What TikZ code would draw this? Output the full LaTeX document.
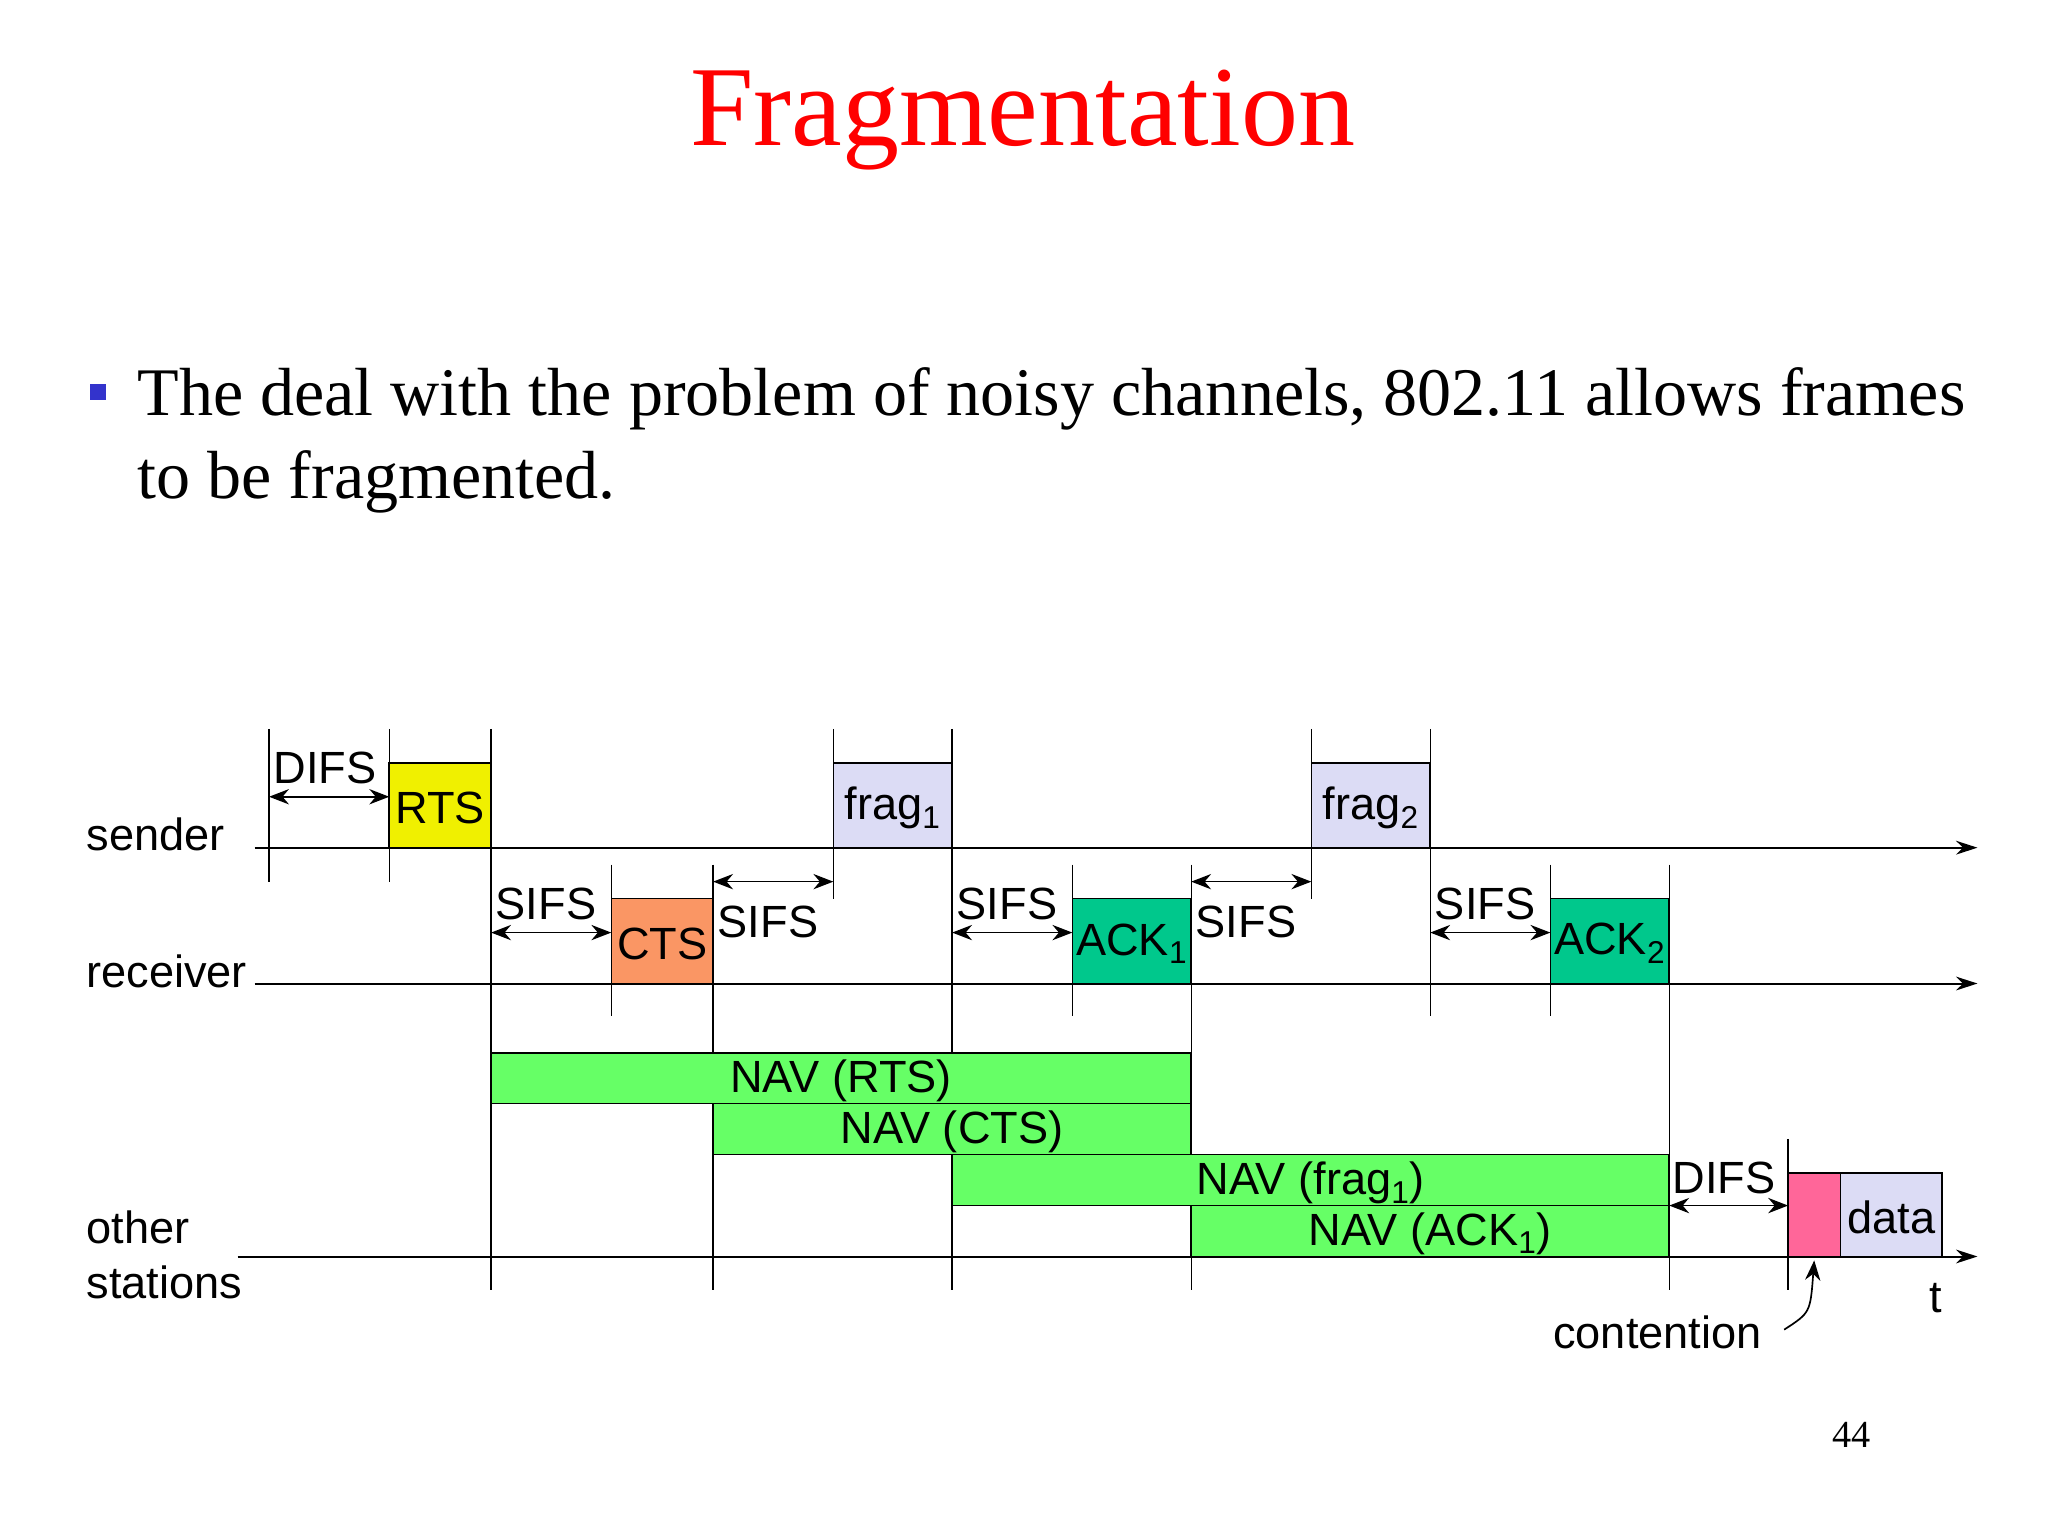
\documentclass[tikz,border=0pt]{standalone}
\usepackage{fontspec}
\setmainfont{Liberation Serif}
\setsansfont{Liberation Sans}
\usetikzlibrary{arrows.meta}
\definecolor{ttl}{RGB}{255,0,0}
\definecolor{bul}{RGB}{51,51,204}
\definecolor{rtsc}{RGB}{240,240,0}
\definecolor{ctsc}{RGB}{250,150,100}
\definecolor{ackc}{RGB}{0,200,140}
\definecolor{navc}{RGB}{102,255,102}
\definecolor{fragc}{RGB}{220,220,245}
\definecolor{pinkc}{RGB}{255,102,153}
\tikzset{
 lab/.style={font=\sffamily\fontsize{29.5}{32}\selectfont, inner sep=0pt},
 frame/.style={draw, line width=1pt},
 tl/.style={line width=1.3pt, -{Stealth[length=14pt,width=9pt]}},
 vl/.style={line width=0.9pt},
 gap/.style={line width=1.1pt, {Stealth[length=13pt,width=10pt]}-{Stealth[length=13pt,width=10pt]}}
}
\newcommand\fbx[6]{\draw[frame, fill=#5] (#1,#2) rectangle (#3,#4);
 \node[lab] (#6) at ({(#1+#3)/2},{(#2+#4)/2+2})}
\begin{document}
\begin{tikzpicture}[x=0.3mm,y=-0.3mm]
\useasboundingbox (0,0) rectangle (1568,1176);
\node[text=ttl, font=\fontsize{74.5}{80}\selectfont, inner sep=0pt] (title) at (783,92) {Fragmentation};
\fill[bul] (69,294) rectangle (81,306);
\node[anchor=base west, font=\fontsize{44.5}{54}\selectfont, inner sep=0pt] (b1) at (105,318) {The deal with the problem of noisy channels, 802.11 allows frames};
\node[anchor=base west, font=\fontsize{44.5}{54}\selectfont, inner sep=0pt] (b2) at (105,382) {to be fragmented.};
\node[anchor=base west, font=\fontsize{25}{30}\selectfont, inner sep=0pt] (pg) at (1403,1108) {44};
% verticals
\foreach \x/\a/\b in {206/558/675,298/558/675,376/558/988,468/662/778,546/662/988,638/558/688,729/558/988,821/662/778,912/662/988,1004/558/688,1095/558/778,1187/662/778,1278/662/988,1369/872/988}
  \draw[vl] (\x,\a) -- (\x,\b);
% boxes
\fbx{298}{584}{376}{649}{rtsc}{rts} {RTS};
\fbx{638}{584}{729}{649}{fragc}{f1} {frag\textsubscript{1}};
\fbx{1004}{584}{1095}{649}{fragc}{f2} {frag\textsubscript{2}};
\fbx{468}{688}{546}{753}{ctsc}{cts} {CTS};
\fbx{821}{688}{912}{753}{ackc}{a1} {ACK\textsubscript{1}};
\fbx{1187}{688}{1278}{753}{ackc}{a2} {ACK\textsubscript{2}};
\fbx{376}{806}{912}{845}{navc}{n1} {NAV (RTS)};
\fbx{546}{845}{912}{884}{navc}{n2} {NAV (CTS)};
\fbx{729}{884}{1278}{923}{navc}{n3} {NAV (frag\textsubscript{1})};
\fbx{912}{923}{1278}{962}{navc}{n4} {NAV (ACK\textsubscript{1})};
\draw[frame, fill=pinkc] (1369,898) rectangle (1409,962);
\fbx{1409}{898}{1487}{962}{fragc}{dt} {data};
% time lines
\coordinate (s0) at (195,649); \coordinate (s1) at (1514,649);
\coordinate (r0) at (195,753); \coordinate (r1) at (1514,753);
\coordinate (o0) at (182,962); \coordinate (o1) at (1514,962);
\draw[tl] (s0) -- (s1); \draw[tl] (r0) -- (r1); \draw[tl] (o0) -- (o1);
\node[lab, anchor=base west] (ls) at (66,651) {sender};
\node[lab, anchor=base west] (lr) at (66,756) {receiver};
\node[lab, anchor=base west] (lo1) at (66,952) {other};
\node[lab, anchor=base west] (lo2) at (66,994) {stations};
% gaps
\draw[gap] (206,610) -- (298,610); \node[lab] (g0) at (249,588) {DIFS};
\draw[gap] (376,714) -- (468,714); \node[lab] (g1) at (418,692) {SIFS};
\draw[gap] (546,675) -- (638,675); \node[lab] (g2) at (588,706) {SIFS};
\draw[gap] (729,714) -- (821,714); \node[lab] (g3) at (771,692) {SIFS};
\draw[gap] (912,675) -- (1004,675); \node[lab] (g4) at (954,706) {SIFS};
\draw[gap] (1095,714) -- (1187,714); \node[lab] (g5) at (1137,692) {SIFS};
\draw[gap] (1278,923) -- (1369,923); \node[lab] (g6) at (1320,902) {DIFS};
\node[lab] (tt) at (1482,994) {t};
\node[lab] (ct) at (1269,1020) {contention};
\coordinate (c0) at (1366,1018); \coordinate (c1) at (1389,965);
\draw[line width=1.1pt, -{Stealth[length=13pt,width=10pt]}] (c0) .. controls (1386,1005) .. (c1);
\end{tikzpicture}
\end{document}
